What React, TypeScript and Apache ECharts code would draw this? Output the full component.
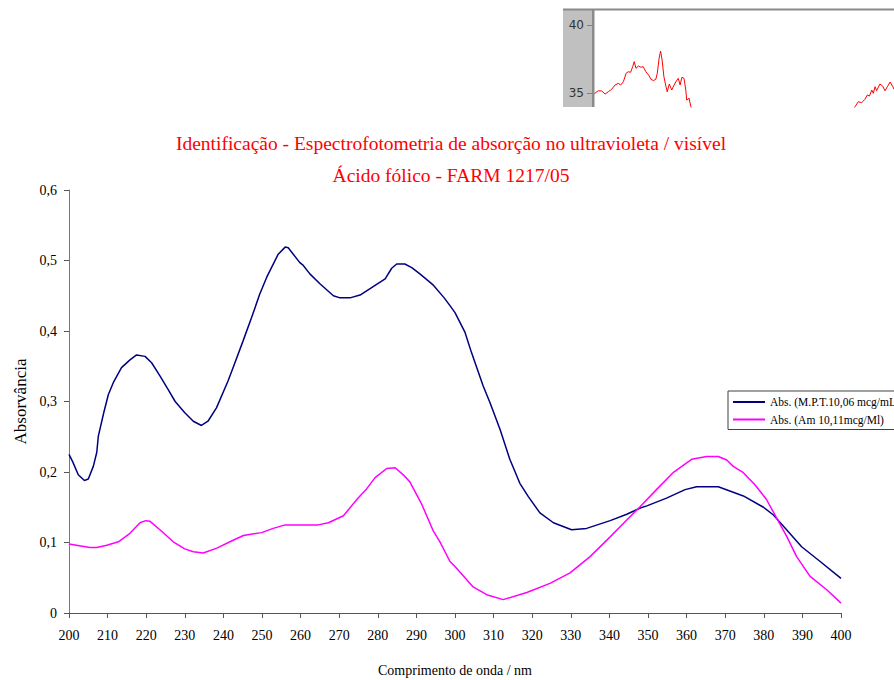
import React, { useEffect, useRef } from "react";
import * as echarts from "echarts";

// Main chart data (wavelength nm / absorbance)
const wavelengthsMPT = [
  200, 201, 202.4, 204, 205, 206.3, 207.2, 207.6, 209, 210.2, 211.5, 213.6, 215.8, 217.5, 219.7, 221.4,
  223.6, 225.7, 227.5, 230, 232.2, 234.3, 236, 238.2, 241.2, 242.5, 245.1, 247.3, 249.4, 251.2, 254.2,
  256, 256.8, 259.8, 260.7, 262.4, 265, 268.5, 270.2, 272.8, 275.4, 278.8, 281.9, 283.6, 284.9, 287,
  288.8, 290.9, 294.4, 297.2, 298.7, 300, 302.6, 304.3, 307.3, 309.1, 311.7, 314.2, 316.8, 319, 322,
  325.5, 330.2, 334.1, 340.2, 344.5, 348, 349.7, 354.8, 359.6, 362.6, 368.2, 371.2, 374.7, 379.9,
  382.5, 385.9, 389.8, 394.6, 400,
];
const absMPT = [
  0.225, 0.214, 0.196, 0.188, 0.19, 0.208, 0.228, 0.251, 0.284, 0.31, 0.327, 0.348, 0.359, 0.366, 0.364, 0.355,
  0.336, 0.317, 0.3, 0.284, 0.272, 0.266, 0.272, 0.291, 0.329, 0.348, 0.386, 0.419, 0.452, 0.476, 0.509,
  0.519, 0.518, 0.497, 0.493, 0.481, 0.467, 0.45, 0.447, 0.447, 0.451, 0.463, 0.474, 0.489, 0.495, 0.495,
  0.49, 0.481, 0.465, 0.447, 0.436, 0.426, 0.398, 0.369, 0.322, 0.298, 0.26, 0.218, 0.184, 0.165, 0.142,
  0.128, 0.118, 0.12, 0.131, 0.14, 0.149, 0.152, 0.163, 0.175, 0.179, 0.179, 0.173, 0.166, 0.15,
  0.139, 0.118, 0.094, 0.073, 0.049,
];
const wavelengthsAm = [
  200, 205.4, 207.2, 209.8, 212.8, 215.8, 218.4, 219.9, 221, 224, 227, 230, 232.2, 234.8, 238.3, 241.7,
  245.2, 247.5, 249.9, 252.9, 256, 264.6, 267.2, 271.1, 274.9, 277.1, 279.3, 282.3, 284.5, 286.6, 288.3,
  291.4, 294.4, 296.1, 298.7, 300, 304.7, 308.2, 312.5, 318.6, 324.6, 329.8, 335, 340.2, 344.5, 348,
  352.2, 356.5, 361.3, 365.2, 368.2, 370.4, 372.1, 374.7, 377.7, 380.7, 383.3, 385.9, 388.5, 392, 396.3, 400,
];
const absAm = [
  0.098, 0.093, 0.093, 0.096, 0.101, 0.113, 0.128, 0.131, 0.13, 0.116, 0.101, 0.091, 0.087, 0.085, 0.092, 0.101,
  0.11, 0.112, 0.114, 0.12, 0.125, 0.125, 0.128, 0.138, 0.163, 0.176, 0.192, 0.205, 0.206, 0.196, 0.186,
  0.154, 0.116, 0.101, 0.073, 0.066, 0.037, 0.026, 0.019, 0.029, 0.042, 0.057, 0.08, 0.108, 0.132, 0.151,
  0.175, 0.199, 0.218, 0.222, 0.222, 0.217, 0.208, 0.199, 0.182, 0.161, 0.135, 0.109, 0.08, 0.052, 0.033, 0.014,
];

// Cropped inset (top right) red trace
const insetX = [
  0, 1.4, 2.6, 3.7, 4.8, 5.9, 7, 8.1, 8.9, 9.8, 10.7, 11.4, 12.2, 12.9, 13.4, 14, 14.8, 15.6, 16.4, 17.3,
  18.2, 19, 19.8, 20.6, 21.1, 21.7, 22.2, 22.7, 23.3, 24, 24.4, 25.1, 25.9, 26.7, 27.3, 28.1, 28.7, 29.3,
  30, 30.6, 30.9, 31.7, 32.3, 33.7, 86, 87, 88.1, 89.2, 90.3, 91.1, 91.8, 92.6, 93.1, 93.7, 94.2, 95.3,
  96.2, 97, 97.8, 98.7, 99.6, 100,
];
const insetY = [
  34.95, 35.19, 35.17, 34.95, 35.12, 35.3, 35.61, 35.73, 35.61, 35.85, 36.47, 36.58, 36.54, 36.95, 37.32,
  36.83, 37, 36.91, 36.95, 36.58, 36.34, 36.03, 35.93, 36.03, 36.47, 37.57, 38.1, 37.44, 36.22, 35.49,
  35.12, 35.68, 35.24, 35.61, 35.85, 36.1, 35.61, 36.17, 36.1, 35.24, 34.51, 34.64, 34.02, 33.4, 33.6,
  34.02, 34.39, 34.31, 34.56, 34.88, 34.8, 35.24, 35, 35.49, 35.19, 35.68, 35.54, 35.19, 35.49, 35.83,
  35.49, 35.3,
];
const insetTicks = [35, 40];

const titleLines = [
  "Identificação - Espectrofotometria de absorção no ultravioleta / visível",
  "Ácido fólico - FARM 1217/05",
];
const seriesNames = ["Abs. (M.P.T.10,06 mcg/mL)", "Abs. (Am 10,11mcg/Ml)"];

const SERIF = "'Liberation Serif', 'Times New Roman', serif";

export default function App() {
  const ref = useRef<HTMLDivElement>(null);
  useEffect(() => {
    if (!ref.current) return;
    const chart = echarts.init(ref.current, null, { renderer: "svg" });
    const mptData = wavelengthsMPT.map((x, i) => [x, absMPT[i]]);
    const amData = wavelengthsAm.map((x, i) => [x, absAm[i]]);
    const insetData = insetX.map((x, i) => [x, insetY[i]]);
    chart.setOption({
      animation: false,
      backgroundColor: "#ffffff",
      title: {
        text: titleLines.join("\n"),
        left: 446,
        top: 122,
        textAlign: "center",
        textStyle: {
          color: "#ff0000",
          fontFamily: SERIF,
          fontSize: 19.5,
          fontWeight: "normal",
          lineHeight: 32,
        },
      },
      graphic: [
        { type: "rect", shape: { x: 563, y: 9, width: 31, height: 98 }, style: { fill: "#c0c0c0" }, z: -1 },
        { type: "rect", shape: { x: 563, y: 8.5, width: 331, height: 2 }, style: { fill: "#8a8a8a" }, z: -1 },
        { type: "rect", shape: { x: 592, y: 9, width: 2.5, height: 98 }, style: { fill: "#8a8a8a" }, z: 10 },
      ],
      legend: {
        left: 728,
        top: 391,
        orient: "vertical",
        padding: [5, 5, 4, 5],
        itemGap: 5.5,
        icon: "rect",
        itemWidth: 32,
        itemHeight: 2,
        borderColor: "#404040",
        borderWidth: 1,
        data: seriesNames,
        textStyle: { fontFamily: SERIF, fontSize: 11.5, color: "#000" },
      },
      grid: [
        { left: 69, right: 53, top: 190, bottom: 67, outerBoundsMode: "none", containLabel: false },
        { left: 594, top: 10, width: 300, height: 97, outerBoundsMode: "none", containLabel: false },
      ],
      xAxis: [
        {
          type: "value",
          gridIndex: 0,
          min: 200,
          max: 400,
          interval: 10,
          name: "Comprimento de onda / nm",
          nameLocation: "middle",
          nameGap: 50,
          nameTextStyle: { fontFamily: SERIF, fontSize: 14, color: "#000" },
          axisLine: { lineStyle: { color: "#555", width: 1 } },
          axisTick: { show: true, length: 5, lineStyle: { color: "#555" } },
          axisLabel: { fontFamily: SERIF, fontSize: 14, color: "#000", margin: 15 },
          splitLine: { show: false },
        },
        {
          type: "value",
          gridIndex: 1,
          min: 0,
          max: 100,
          show: false,
        },
      ],
      yAxis: [
        {
          type: "value",
          gridIndex: 0,
          min: 0,
          max: 0.6,
          interval: 0.1,
          name: "Absorvância",
          nameLocation: "middle",
          nameGap: 35,
          nameRotate: 90,
          nameTextStyle: { fontFamily: SERIF, fontSize: 17, color: "#000" },
          axisLine: { show: true, lineStyle: { color: "#777", width: 1 } },
          axisTick: { show: true, length: 5, lineStyle: { color: "#555" } },
          axisLabel: {
            fontFamily: SERIF,
            fontSize: 14,
            color: "#000",
            margin: 12,
            formatter: (v: number) => (v === 0 ? "0" : v.toFixed(1).replace(".", ",")),
          },
          splitLine: { show: false },
        },
        {
          type: "value",
          gridIndex: 1,
          min: 34,
          max: 41.1,
          axisLine: { show: false },
          axisTick: {
            show: true,
            length: 7,
            customValues: insetTicks,
            lineStyle: { color: "#808080" },
          },
          axisLabel: {
            show: true,
            customValues: insetTicks,
            fontFamily: "'DejaVu Sans', sans-serif",
            fontSize: 12,
            color: "#333",
            margin: 10,
          },
          splitLine: { show: false },
        },
      ],
      series: [
        {
          name: seriesNames[0],
          type: "line",
          xAxisIndex: 0,
          yAxisIndex: 0,
          data: mptData,
          symbol: "none",
          lineStyle: { color: "#000080", width: 1.5 },
          itemStyle: { color: "#000080" },
        },
        {
          name: seriesNames[1],
          type: "line",
          xAxisIndex: 0,
          yAxisIndex: 0,
          data: amData,
          symbol: "none",
          lineStyle: { color: "#ff00ff", width: 1.5 },
          itemStyle: { color: "#ff00ff" },
        },
        {
          name: "inset",
          type: "line",
          xAxisIndex: 1,
          yAxisIndex: 1,
          data: insetData,
          symbol: "none",
          clip: true,
          lineStyle: { color: "#ff0000", width: 1 },
          itemStyle: { color: "#ff0000" },
        },
      ],
    });
    return () => chart.dispose();
  }, []);
  return (
    <div
      ref={ref}
      style={{ position: "absolute", left: 0, top: 0, width: 894, height: 680 }}
    />
  );
}
